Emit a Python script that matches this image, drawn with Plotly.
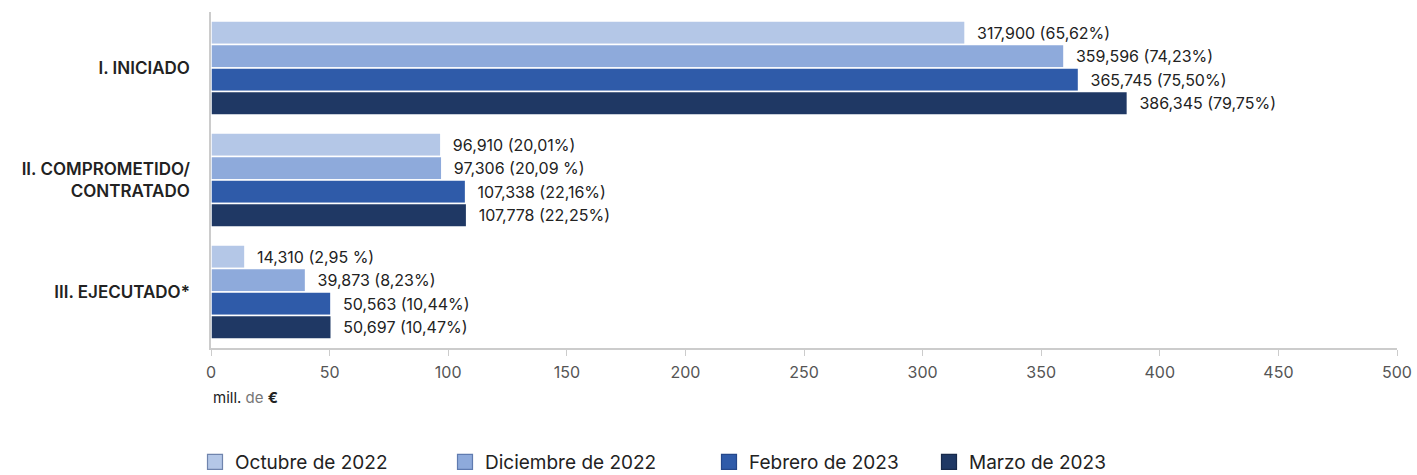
import plotly.graph_objects as go

categories = ["I. INICIADO", "II. COMPROMETIDO/<br>CONTRATADO", "III. EJECUTADO*"]
series_names = ["Octubre de 2022", "Diciembre de 2022", "Febrero de 2023", "Marzo de 2023"]

oct_2022 = [317.900, 96.910, 14.310]
dic_2022 = [359.596, 97.306, 39.873]
feb_2023 = [365.745, 107.338, 50.563]
mar_2023 = [386.345, 107.778, 50.697]

oct_labels = ["317,900 (65,62%)", "96,910 (20,01%)", "14,310 (2,95 %)"]
dic_labels = ["359,596 (74,23%)", "97,306 (20,09 %)", "39,873 (8,23%)"]
feb_labels = ["365,745 (75,50%)", "107,338 (22,16%)", "50,563 (10,44%)"]
mar_labels = ["386,345 (79,75%)", "107,778 (22,25%)", "50,697 (10,47%)"]

x_ticks = [0, 50, 100, 150, 200, 250, 300, 350, 400, 450, 500]

colors = ["#b4c7e7", "#8eaadb", "#2f5ba9", "#1f3864"]
legend_borders = ["#6f84ad", "#5f7bb0", "#24478a", "#17294a"]

FONT = "Inter, Lato, sans-serif"

W, H = 1417, 475
ML, MR, MT, MB = 211, 20, 12, 127
PW = W - ML - MR
PH = H - MT - MB

# legend text start positions (px) -> legend box x
legend_text_px = [236, 486, 750, 970]
legend_ids = ["legend", "legend2", "legend3", "legend4"]

fig = go.Figure()
for i, (name, vals, labels, col) in enumerate(zip(series_names,
                                   [oct_2022, dic_2022, feb_2023, mar_2023],
                                   [oct_labels, dic_labels, feb_labels, mar_labels],
                                   colors)):
    fig.add_trace(go.Bar(
        name=name, y=categories, x=vals, orientation="h",
        marker=dict(color=col, line=dict(color="white", width=1.5)),
        text=["\u00a0\u00a0" + l for l in labels], textposition="outside", cliponaxis=False,
        textfont=dict(size=16, color="#222222", family=FONT),
        hoverinfo="x+name",
        showlegend=False,
    ))

# legend entries (square swatches with a border, as in the reference)
for i, (name, col, bcol) in enumerate(zip(series_names, colors, legend_borders)):
    fig.add_trace(go.Scatter(
        x=[None], y=[None], mode="markers", name=name,
        marker=dict(symbol="square", size=15, color=col, line=dict(color=bcol, width=1.2)),
        legend=legend_ids[i], showlegend=True, hoverinfo="skip",
    ))

legends = {}
for i, lid in enumerate(legend_ids):
    xpx = legend_text_px[i] - 41
    legends[lid] = dict(
        orientation="h", x=(xpx - ML) / PW, xanchor="left",
        y=(MT + PH - 462) / PH, yanchor="middle",
        font=dict(size=19, color="#222222", family=FONT),
        bgcolor="rgba(0,0,0,0)",
    )

fig.update_layout(
    width=W, height=H,
    margin=dict(l=ML, r=MR, t=MT, b=MB, autoexpand=False),
    barmode="group", bargap=0.16, bargroupgap=0.0,
    plot_bgcolor="white", paper_bgcolor="white",
    font=dict(family=FONT, color="#222222"),
    showlegend=True,
    xaxis=dict(range=[0, 500], tickvals=x_ticks, showgrid=False, zeroline=False,
               showline=True, linecolor="#cccccc", linewidth=1.5,
               ticks="outside", ticklen=6, tickcolor="#cccccc",
               ticklabelstandoff=3, automargin=False,
               tickfont=dict(size=16, color="#555555", family=FONT)),
    yaxis=dict(autorange="reversed", showgrid=False, zeroline=False,
               showline=True, linecolor="#cccccc", linewidth=1.5,
               ticks="", ticklabelstandoff=16, automargin=False,
               tickfont=dict(size=17, color="#222222", family=FONT, weight=600)),
    annotations=[dict(
        text="mill. <span style='color:#777777'>de</span> <b>€</b>",
        xref="paper", yref="paper", x=0, y=(MT + PH - 397) / PH,
        xanchor="left", yanchor="middle",
        showarrow=False, font=dict(size=15, color="#222222", family=FONT))],
    **legends,
)

fig.write_html("out.html", config={"displayModeBar": False},
               post_script="document.body.style.margin='0';")
